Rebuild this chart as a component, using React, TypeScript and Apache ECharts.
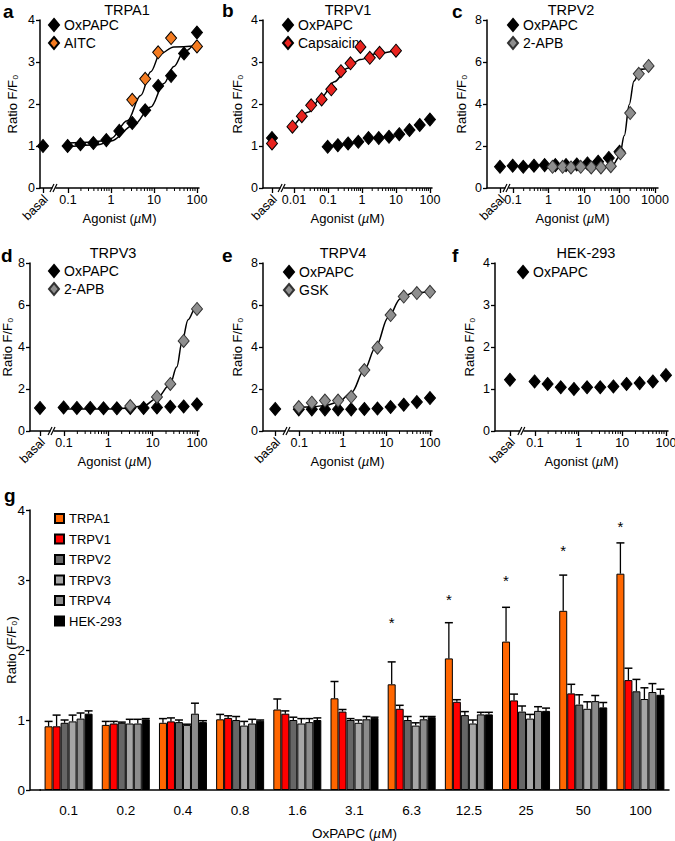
import React, { useEffect, useRef } from "react";
import * as echarts from "echarts";

const FONT = "'Liberation Sans', Arial, Helvetica, sans-serif";

// ---------------- data ----------------
// OxPAPC concentrations (µM)
const oxConc = [0.098, 0.195, 0.39, 0.78, 1.56, 3.125, 6.25, 12.5, 25, 50, 100];

// a: TRPA1
const aTicks = ["0.1", "1", "10", "100"];
const aOxBasal = 1.0;
const aOx = [1.0, 1.04, 1.07, 1.14, 1.36, 1.55, 1.85, 2.43, 2.67, 3.2, 3.7];
const aAitcConc = [3.125, 6.25, 12.5, 25, 100];
const aAitc = [2.1, 2.6, 3.23, 3.57, 3.37];
const aAitcFitConc = [0.098, 0.3, 0.6, 1, 2.4, 4.9, 8.4, 14, 29, 100];
const aAitcFit = [1.07, 1.09, 1.12, 1.18, 1.6, 2.2, 2.77, 3.2, 3.36, 3.38];
const aOxFitConc = [0.098, 0.5, 1, 3.4, 8.4, 17, 29, 49, 100];
const aOxFit = [0.98, 1.03, 1.12, 1.5, 1.93, 2.49, 2.89, 3.24, 3.52];

// b: TRPV1
const bTicks = ["0.01", "0.1", "1", "10", "100"];
const bOxBasal = 1.19;
const bOx = [0.98, 1.02, 1.06, 1.1, 1.19, 1.19, 1.22, 1.28, 1.38, 1.5, 1.63];
const bCapBasal = 1.06;
const bCapConc = [0.009, 0.017, 0.032, 0.065, 0.125, 0.24, 0.46, 0.9, 1.7, 3.3, 10];
const bCap = [1.46, 1.71, 1.97, 2.11, 2.35, 2.78, 2.97, 3.36, 3.1, 3.22, 3.27];
const bCapFitConc = [0.009, 0.027, 0.065, 0.155, 0.37, 0.9, 2.7, 10];
const bCapFit = [1.43, 1.81, 2.17, 2.53, 2.85, 3.06, 3.2, 3.28];

// c: TRPV2
const cTicks = ["0.1", "1", "10", "100", "1000"];
const cOxBasal = 1.01;
const cOx = [1.06, 1.01, 1.06, 1.09, 1.09, 1.09, 1.12, 1.17, 1.25, 1.43, 1.73];
const cApbConc = [1.3, 2.5, 4.3, 8.1, 16, 30, 57, 106, 200, 350, 660];
const cApb = [1.01, 1.01, 0.98, 1.01, 0.98, 0.98, 1.04, 1.65, 3.57, 5.44, 5.81];
const cApbFitConc = [1.3, 10, 40, 65, 100, 137, 188, 256, 390, 730];
const cApbFit = [0.97, 0.97, 0.99, 1.1, 1.5, 2.5, 3.97, 5.1, 5.65, 5.73];

// d: TRPV3
const dTicks = ["0.1", "1", "10", "100"];
const dOxBasal = 1.1;
const dOx = [1.12, 1.1, 1.1, 1.08, 1.08, 1.1, 1.1, 1.12, 1.15, 1.17, 1.27];
const dApbConc = [3.125, 12.5, 25, 50, 100];
const dApb = [1.19, 1.62, 2.24, 4.29, 5.81];
const dApbFitConc = [0.098, 1, 3.1, 6.3, 12.3, 24.5, 35, 46, 63, 89, 100];
const dApbFit = [1.05, 1.05, 1.1, 1.2, 1.55, 2.2, 3.05, 4.25, 5.3, 5.8, 5.88];

// e: TRPV4
const eTicks = ["0.1", "1", "10", "100"];
const eOxBasal = 1.05;
const eOx = [1.03, 1.03, 1.03, 1.03, 1.03, 1.05, 1.07, 1.14, 1.25, 1.38, 1.57];
const eGsk = [1.14, 1.35, 1.45, 1.45, 1.63, 2.9, 3.97, 5.52, 6.4, 6.57, 6.63];
const eGskFitConc = [0.098, 0.2, 0.4, 0.8, 1.6, 3.1, 5.7, 11, 21, 41, 100];
const eGskFit = [1.1, 1.15, 1.22, 1.38, 1.85, 2.9, 4.0, 5.4, 6.3, 6.58, 6.63];

// f: HEK-293
const fTicks = ["0.1", "1", "10", "100"];
const fOxBasal = 1.22;
const fOx = [1.18, 1.12, 1.04, 1.0, 1.04, 1.04, 1.06, 1.12, 1.14, 1.18, 1.33];

// g: bar chart
const barCats = ["0.1", "0.2", "0.4", "0.8", "1.6", "3.1", "6.3", "12.5", "25", "50", "100"];
const barNames = ["TRPA1", "TRPV1", "TRPV2", "TRPV3", "TRPV4", "HEK-293"];
const trpa1 = [0.91, 0.93, 0.96, 1.01, 1.15, 1.31, 1.51, 1.88, 2.12, 2.56, 3.09];
const trpa1Err = [0.98, 0.98, 1.02, 1.08, 1.3, 1.55, 1.83, 2.39, 2.61, 3.07, 3.53];
const trpv1 = [0.91, 0.95, 0.98, 1.03, 1.09, 1.12, 1.16, 1.26, 1.28, 1.38, 1.57];
const trpv1Err = [1.07, 0.98, 1.03, 1.06, 1.13, 1.15, 1.21, 1.29, 1.37, 1.51, 1.74];
const trpv2 = [0.96, 0.96, 0.97, 1.0, 1.0, 1.0, 1.0, 1.07, 1.12, 1.22, 1.41];
const trpv2Err = [1.0, 0.97, 1.0, 1.05, 1.04, 1.02, 1.05, 1.12, 1.2, 1.36, 1.58];
const trpv3 = [0.98, 0.95, 0.93, 0.92, 0.95, 0.96, 0.92, 0.95, 1.02, 1.16, 1.3];
const trpv3Err = [1.07, 1.01, 0.94, 0.98, 1.02, 1.0, 0.96, 1.0, 1.08, 1.26, 1.46];
const trpv4 = [1.02, 0.95, 1.09, 0.95, 0.97, 1.01, 1.01, 1.08, 1.13, 1.27, 1.4];
const trpv4Err = [1.1, 1.01, 1.24, 1.01, 1.02, 1.05, 1.05, 1.11, 1.19, 1.35, 1.52];
const hek = [1.09, 1.01, 0.97, 0.99, 1.0, 1.03, 1.04, 1.08, 1.13, 1.18, 1.36];
const hekErr = [1.13, 1.02, 0.99, 1.0, 1.03, 1.04, 1.05, 1.11, 1.17, 1.25, 1.44];
const trpa1Star = [null, null, null, null, null, null, 2.44, 2.77, 3.04, 3.46, 3.81];

// ---------------- styling ----------------
const ORANGE = "#F47B20";
const RED = "#E8231E";
const GREY = "#8E8E8E";
const barColors = ["#FF6600", "#FF0000", "#666666", "#A6A6A6", "#8C8C8C", "#000000"];

const L = (v: number) => Math.log10(v);
const pairs = (xs: number[], ys: number[]) => xs.map((x, i) => [L(x), ys[i]]);

type Panel = {
  letter: string; letterX: number; letterY: number;
  title: string; titleX: number; titleY: number;
  left: number; top: number; width: number; height: number;
  xMin: number; xMax: number; basal: number; brk: number;
  ticks: string[]; yMax: number; yInt: number; nameGap: number;
  legLeft: number; legTop: number;
};

const panels: Panel[] = [
  { letter: "a", letterX: 3, letterY: 11, title: "TRPA1", titleX: 127, titleY: 10, left: 40, top: 20, width: 159, height: 168, xMin: -1.651, xMax: 2.047, basal: -1.581, brk: -1.326, ticks: aTicks, yMax: 4, yInt: 1, nameGap: 21, legLeft: 48, legTop: 18 },
  { letter: "b", letterX: 222, letterY: 10, title: "TRPV1", titleX: 348, titleY: 10, left: 263, top: 20, width: 169, height: 168, xMin: -2.912, xMax: 2.06, basal: -2.647, brk: -2.35, ticks: bTicks, yMax: 4, yInt: 1, nameGap: 19, legLeft: 282, legTop: 18 },
  { letter: "c", letterX: 452, letterY: 11, title: "TRPV2", titleX: 571, titleY: 10, left: 487, top: 20, width: 171, height: 168, xMin: -1.732, xMax: 3.085, basal: -1.366, brk: -1.17, ticks: cTicks, yMax: 8, yInt: 2, nameGap: 19, legLeft: 507, legTop: 18 },
  { letter: "d", letterX: 1, letterY: 255, title: "TRPV3", titleX: 113, titleY: 253, left: 30, top: 263, width: 169, height: 168, xMin: -1.767, xMax: 2.045, basal: -1.542, brk: -1.27, ticks: dTicks, yMax: 8, yInt: 2, nameGap: 15, legLeft: 48, legTop: 264 },
  { letter: "e", letterX: 222, letterY: 255, title: "TRPV4", titleX: 343, titleY: 253, left: 263, top: 263, width: 169, height: 168, xMin: -1.83, xMax: 2.046, basal: -1.55, brk: -1.28, ticks: eTicks, yMax: 8, yInt: 2, nameGap: 19, legLeft: 283, legTop: 265 },
  { letter: "f", letterX: 452, letterY: 255, title: "HEK-293", titleX: 586, titleY: 253, left: 495, top: 263, width: 173, height: 168, xMin: -1.915, xMax: 2.046, basal: -1.572, brk: -1.3, ticks: fTicks, yMax: 4, yInt: 1, nameGap: 19, legLeft: 517, legTop: 265 },
];

const BAR_W = 8;

function buildOption() {
  const grid: any[] = [];
  const xAxis: any[] = [];
  const yAxis: any[] = [];
  const series: any[] = [];
  const legend: any[] = [];
  const graphic: any[] = [];

  const axisLine = { show: true, onZero: false, lineStyle: { color: "#000", width: 1.5 } };

  panels.forEach((p, i) => {
    grid.push({ left: p.left, top: p.top, width: p.width, height: p.height, containLabel: false, outerBoundsMode: "none" });
    const tickVals = p.ticks.map((t) => L(parseFloat(t)));
    xAxis.push({
      type: "value", gridIndex: i, min: p.xMin, max: p.xMax,
      axisLine,
      axisTick: { show: true, customValues: [p.basal, ...tickVals], length: 5, lineStyle: { color: "#000", width: 1.3 } },
      axisLabel: {
        customValues: tickVals, margin: 5, fontSize: 12.5, color: "#000", fontFamily: FONT,
        formatter: (v: number) => {
          const k = tickVals.findIndex((t) => Math.abs(t - v) < 1e-6);
          return k >= 0 ? p.ticks[k] : "";
        },
      },
      splitLine: { show: false },
      name: "Agonist ({i|µ}M)", nameLocation: "middle", nameGap: 24,
      nameTextStyle: { fontSize: 13, fontFamily: FONT, color: "#000", rich: { i: { fontStyle: "italic", fontSize: 13, fontFamily: FONT, color: "#000" } } },
    });
    yAxis.push({
      type: "value", gridIndex: i, min: 0, max: p.yMax, interval: p.yInt,
      axisLine, axisTick: { show: true, length: 4, lineStyle: { color: "#000", width: 1.3 } },
      axisLabel: { margin: 5, fontSize: 12.5, color: "#000", fontFamily: FONT },
      splitLine: { show: false },
      name: "Ratio F/F₀", nameLocation: "middle", nameRotate: 90, nameGap: p.nameGap,
      nameTextStyle: { fontSize: 13, fontFamily: FONT, color: "#000" },
    });

    // minor ticks, axis break, basal label
    const minor: number[] = [];
    for (let k = 0; k < tickVals.length - 1; k++) {
      for (let m = 2; m <= 9; m++) minor.push(tickVals[k] + L(m));
    }
    series.push({
      type: "custom", xAxisIndex: i, yAxisIndex: i, silent: true, clip: false, z: 10,
      data: [[p.brk, 0]],
      renderItem: (_params: any, api: any) => {
        const [bx, by] = api.coord([p.brk, 0]);
        const children: any[] = [];
        minor.forEach((mv) => {
          const [mx] = api.coord([mv, 0]);
          children.push({ type: "line", shape: { x1: mx, y1: by, x2: mx, y2: by + 3 }, style: { stroke: "#000", lineWidth: 1 } });
        });
        children.push({ type: "rect", shape: { x: bx - 1.5, y: by - 2, width: 3, height: 4 }, style: { fill: "#fff" } });
        children.push({ type: "line", shape: { x1: bx - 4, y1: by + 4, x2: bx, y2: by - 4 }, style: { stroke: "#000", lineWidth: 1.2 } });
        children.push({ type: "line", shape: { x1: bx - 1, y1: by + 4, x2: bx + 3, y2: by - 4 }, style: { stroke: "#000", lineWidth: 1.2 } });
        const [ax] = api.coord([p.basal, 0]);
        children.push({
          type: "text", x: ax + 3, y: by + 9, rotation: Math.PI / 4,
          style: { text: "basal", fontSize: 12.5, fontFamily: FONT, fill: "#000", align: "right", verticalAlign: "middle" },
        });
        return { type: "group", children };
      },
    });

    graphic.push({ type: "text", x: p.letterX, y: p.letterY, style: { text: p.letter, fontSize: 19, fontWeight: "bold", fontFamily: FONT, fill: "#000", align: "left", verticalAlign: "middle" } });
    graphic.push({ type: "text", x: p.titleX, y: p.titleY, style: { text: p.title, fontSize: 14.5, fontFamily: FONT, fill: "#000", align: "center", verticalAlign: "middle" } });
  });

  const diamond = (name: string, gi: number, data: any[], color: string, border: string, z: number) => ({
    type: "scatter", name, xAxisIndex: gi, yAxisIndex: gi, data, symbol: "diamond", symbolSize: [11, 13], z,
    itemStyle: { color, borderColor: border, borderWidth: 1, opacity: 1 },
  });
  const fit = (gi: number, xs: number[], ys: number[]) => ({
    type: "line", name: "fit" + gi + "_" + xs.length, xAxisIndex: gi, yAxisIndex: gi, data: pairs(xs, ys),
    showSymbol: false, symbol: "none", smooth: 0.35, smoothMonotone: "x", silent: true, z: 2,
    lineStyle: { color: "#000", width: 1.5 },
  });
  const oxData = (pi: number, basalVal: number, vals: number[]) => [[panels[pi].basal, basalVal], ...pairs(oxConc, vals)];

  // a
  series.push(fit(0, aAitcFitConc, aAitcFit), fit(0, aOxFitConc, aOxFit));
  series.push(diamond("OxPAPC", 0, oxData(0, aOxBasal, aOx), "#000", "#000", 3));
  series.push(diamond("AITC", 0, pairs(aAitcConc, aAitc), ORANGE, "#000", 4));
  // b
  series.push(fit(1, bCapFitConc, bCapFit));
  series.push(diamond("OxPAPC", 1, oxData(1, bOxBasal, bOx), "#000", "#000", 3));
  series.push(diamond("Capsaicin", 1, [[panels[1].basal, bCapBasal], ...pairs(bCapConc, bCap)], RED, "#000", 4));
  // c
  series.push(fit(2, cApbFitConc, cApbFit));
  series.push(diamond("OxPAPC", 2, oxData(2, cOxBasal, cOx), "#000", "#000", 3));
  series.push(diamond("2-APB", 2, pairs(cApbConc, cApb), GREY, "#333", 4));
  // d
  series.push(fit(3, dApbFitConc, dApbFit));
  series.push(diamond("OxPAPC", 3, oxData(3, dOxBasal, dOx), "#000", "#000", 3));
  series.push(diamond("2-APB", 3, pairs(dApbConc, dApb), GREY, "#333", 4));
  // e
  series.push(fit(4, eGskFitConc, eGskFit));
  series.push(diamond("OxPAPC", 4, oxData(4, eOxBasal, eOx), "#000", "#000", 3));
  series.push(diamond("GSK", 4, pairs(oxConc, eGsk), GREY, "#333", 4));
  // f
  series.push(diamond("OxPAPC", 5, oxData(5, fOxBasal, fOx), "#000", "#000", 3));

  const legendNames = [["OxPAPC", "AITC"], ["OxPAPC", "Capsaicin"], ["OxPAPC", "2-APB"], ["OxPAPC", "2-APB"], ["OxPAPC", "GSK"], ["OxPAPC"]];
  panels.forEach((p, i) => {
    legend.push({
      left: p.legLeft, top: p.legTop, orient: "vertical", itemGap: 4, itemWidth: 10, itemHeight: 12,
      icon: "diamond", selectedMode: false, padding: 0,
      textStyle: { fontSize: 14, fontFamily: FONT, color: "#000" },
      data: legendNames[i],
    });
  });

  // g: bar chart
  const gi = panels.length;
  grid.push({ left: 40, top: 510, width: 629, height: 280, containLabel: false, outerBoundsMode: "none" });
  xAxis.push({
    type: "category", gridIndex: gi, data: barCats,
    axisLine: { show: true, lineStyle: { color: "#000", width: 1.5 } },
    axisTick: { show: false },
    axisLabel: { margin: 13, fontSize: 13.5, color: "#000", fontFamily: FONT, interval: 0 },
    name: "OxPAPC ({i|µ}M)", nameLocation: "middle", nameGap: 36,
    nameTextStyle: { fontSize: 13.5, fontFamily: FONT, color: "#000", rich: { i: { fontStyle: "italic", fontSize: 13.5, fontFamily: FONT, color: "#000" } } },
  });
  yAxis.push({
    type: "value", gridIndex: gi, min: 0, max: 4, interval: 1, offset: 10,
    axisLine: { show: true, lineStyle: { color: "#000", width: 1.5 } },
    axisTick: { show: true, length: 4, lineStyle: { color: "#000", width: 1.3 } },
    axisLabel: { margin: 5, fontSize: 13.5, color: "#000", fontFamily: FONT },
    splitLine: { show: false },
    name: "Ratio (F/F₀)", nameLocation: "middle", nameRotate: 90, nameGap: 12, nameMoveOverlap: false,
    nameTextStyle: { fontSize: 13, fontFamily: FONT, color: "#000" },
  });
  const barVals = [trpa1, trpv1, trpv2, trpv3, trpv4, hek];
  const barErrs = [trpa1Err, trpv1Err, trpv2Err, trpv3Err, trpv4Err, hekErr];
  barVals.forEach((vals, s) => {
    series.push({
      type: "bar", name: barNames[s], xAxisIndex: gi, yAxisIndex: gi, data: vals,
      barWidth: BAR_W, barGap: "0%", z: 2,
      itemStyle: { color: barColors[s], borderColor: "#000", borderWidth: 1 },
    });
  });
  barVals.forEach((vals, s) => {
    series.push({
      type: "custom", xAxisIndex: gi, yAxisIndex: gi, silent: true, clip: false, z: 5,
      encode: { x: 0, y: [1, 2] },
      data: vals.map((v, i) => [i, v, barErrs[s][i], s === 0 && trpa1Star[i] != null ? trpa1Star[i] : "-"]),
      renderItem: (_params: any, api: any) => {
        const idx = api.value(0);
        const base = api.coord([idx, api.value(1)]);
        const top = api.coord([idx, api.value(2)]);
        const x = base[0] + (s - 2.5) * BAR_W;
        const children: any[] = [
          { type: "line", shape: { x1: x, y1: base[1], x2: x, y2: top[1] }, style: { stroke: "#000", lineWidth: 1.3 } },
          { type: "line", shape: { x1: x - 4, y1: top[1], x2: x + 4, y2: top[1] }, style: { stroke: "#000", lineWidth: 1.5 } },
        ];
        const st = api.value(3);
        if (typeof st === "number" && !isNaN(st)) {
          const sp = api.coord([idx, st]);
          children.push({ type: "text", x, y: sp[1] + 3, style: { text: "*", fontSize: 15, fontFamily: FONT, fill: "#000", align: "center", verticalAlign: "middle" } });
        }
        return { type: "group", children };
      },
    });
  });
  legend.push({
    left: 54, top: 512, orient: "vertical", itemGap: 7.5, itemWidth: 9, itemHeight: 9, icon: "rect",
    selectedMode: false, padding: 0,
    textStyle: { fontSize: 13, fontFamily: FONT, color: "#000" },
    data: barNames,
  });
  // extend the bar chart's x axis line to the offset y axis
  graphic.push({ type: "line", shape: { x1: 30, y1: 790, x2: 41, y2: 790 }, style: { stroke: "#000", lineWidth: 1.5 } });
  graphic.push({ type: "text", x: 4, y: 495, style: { text: "g", fontSize: 19, fontWeight: "bold", fontFamily: FONT, fill: "#000", align: "left", verticalAlign: "middle" } });

  return { animation: false, backgroundColor: "#fff", grid, xAxis, yAxis, series, legend, graphic, tooltip: { show: false } };
}

export default function App() {
  const ref = useRef<HTMLDivElement>(null);
  useEffect(() => {
    if (!ref.current) return;
    const chart = echarts.init(ref.current, null, { renderer: "svg" });
    chart.setOption(buildOption() as any);
    return () => chart.dispose();
  }, []);
  return <div ref={ref} style={{ position: "absolute", left: 0, top: 0, width: 675, height: 841, background: "#fff" }} />;
}
